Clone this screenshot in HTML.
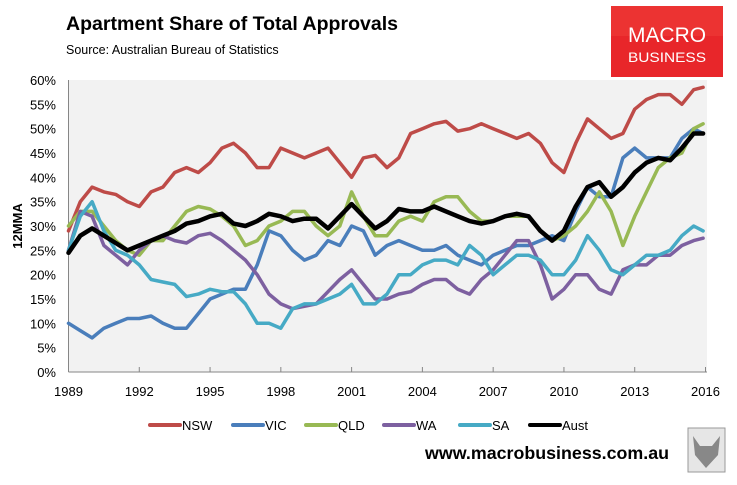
<!DOCTYPE html>
<html><head><meta charset="utf-8"><style>
body{margin:0;background:#fff;width:737px;height:480px;overflow:hidden;font-family:"Liberation Sans",sans-serif}
</style></head><body>
<svg id="chart" width="737" height="480" xmlns="http://www.w3.org/2000/svg">
<text x="66" y="30" font-size="19" font-weight="bold" fill="#000" textLength="332" lengthAdjust="spacingAndGlyphs">Apartment Share of Total Approvals</text>
<text x="66" y="54" font-size="12.5" fill="#000">Source:  Australian Bureau of Statistics</text>
<g>
<rect x="611" y="6" width="112" height="71" fill="#e8262a"/>
<rect x="611" y="6" width="112" height="30" fill="#f0403a" opacity="0.5"/>
<text x="667" y="42" font-size="21" fill="#fff" text-anchor="middle" textLength="78" lengthAdjust="spacingAndGlyphs">MACRO</text>
<text x="667" y="62" font-size="14" fill="#fff" text-anchor="middle" textLength="78" lengthAdjust="spacingAndGlyphs">BUSINESS</text>
</g>
<rect x="68.5" y="80" width="638.5" height="292" fill="#f2f2f2"/>
<g id="axes"></g>
<g id="series"></g>
<text transform="translate(22,226) rotate(-90)" font-size="13" font-weight="bold" text-anchor="middle">12MMA</text>
<g id="legend"></g>
<text x="425" y="459" font-size="17.5" font-weight="bold" fill="#000" textLength="244" lengthAdjust="spacingAndGlyphs">www.macrobusiness.com.au</text>
<g>
<rect x="688" y="428" width="37" height="44" fill="#e6e6e6" stroke="#999"/>
<path d="M693 436 L700 446 L712 446 L720 436 L718 455 L706 468 L695 455 Z" fill="#888"/>
</g>
</svg>
<script>
const years=[1989,1989.5,1990,1990.5,1991,1991.5,1992,1992.5,1993,1993.5,1994,1994.5,1995,1995.5,1996,1996.5,1997,1997.5,1998,1998.5,1999,1999.5,2000,2000.5,2001,2001.5,2002,2002.5,2003,2003.5,2004,2004.5,2005,2005.5,2006,2006.5,2007,2007.5,2008,2008.5,2009,2009.5,2010,2010.5,2011,2011.5,2012,2012.5,2013,2013.5,2014,2014.5,2015,2015.5,2015.9];
const nsw=[29,35,38,37,36.5,35,34,37,38,41,42,41,43,46,47,45,42,42,46,45,44,45,46,43,40,44,44.5,42,44,49,50,51,51.5,49.5,50,51,50,49,48,49,47,43,41,47,52,50,48,49,54,56,57,57,55,58,58.5];
const vic=[10,8.5,7,9,10,11,11,11.5,10,9,9,12,15,16,17,17,22,29,28,25,23,24,27,26,30,29,24,26,27,26,25,25,26,24,23,22,24,25,26,26,27,28,27,33,38,36,36,44,46,44,44,44,48,50,49];
const qld=[30,33,33,30,27,25,24,27,27,30,33,34,33.5,32,30,26,27,30,31,33,33,30,28,30,37,32,28,28,31,32,31,35,36,36,33,31,31,32,32,32,29,27,28,30,33,37,33,26,32,37,42,44,45,50,51];
const wa=[25,33,32,26,24,22,25,27,28,27,26.5,28,28.5,27,25,23,20,16,14,13,13.5,14,16.5,19,21,18,15,15,16,16.5,18,19,19,17,16,19,21,24,27,27,22,15,17,20,20,17,16,21,22,22,24,24,26,27,27.5];
const sa=[25,32,35,29,25,24,22,19,18.5,18,15.5,16,17,16.5,16.5,14,10,10,9,13,14,14,15,16,18,14,14,16,20,20,22,23,23,22,26,24,20,22,24,24,23,20,20,23,28,25,21,20,22,24,24,25,28,30,29];
const aust=[24.5,28,29.5,28,26.5,25,26,27,28,29,30.5,31,32,32.5,30.5,30,31,32.5,32,31,31.5,31.5,29.5,32,34.5,32,29.5,31,33.5,33,33,34,33,32,31,30.5,31,32,32.5,32,29,27,29,34,38,39,36,38,41,43,44,43.5,46,49,49];
const yTicks=[0,5,10,15,20,25,30,35,40,45,50,55,60];
const xTicks=[1989,1992,1995,1998,2001,2004,2007,2010,2013,2016];
const seriesNames=["NSW","VIC","QLD","WA","SA","Aust"];
const seriesColors=["#be4b48","#4a7ebb","#98b954","#7d60a0","#46aac5","#000000"];
const seriesData=[nsw,vic,qld,wa,sa,aust];

const NS="http://www.w3.org/2000/svg";
const X0=68.5,X1=705.5,Y0=372,Y1=80;
const xs=y=>X0+(y-1989)/(2016-1989)*(X1-X0);
const ys=v=>Y0-v/60*(Y0-Y1);
function mk(tag,attrs,parent){const e=document.createElementNS(NS,tag);for(const k in attrs)e.setAttribute(k,attrs[k]);parent.appendChild(e);return e;}
const axes=document.getElementById('axes');
const yax=mk('line',{x1:X0,y1:Y1,x2:X0,y2:Y0,stroke:'#868686','stroke-width':1},axes);


const xax=mk('line',{x1:X0,y1:Y0,x2:707,y2:Y0,stroke:'#868686','stroke-width':1},axes);


yTicks.forEach(v=>{
 const t=mk('text',{x:56,y:ys(v)+5,'font-size':13,'text-anchor':'end',fill:'#000'},axes);
 t.textContent=v+'%';
 
 
});
xTicks.forEach(v=>{
 const l=mk('line',{x1:xs(v),y1:Y0,x2:xs(v),y2:Y0-5,stroke:'#868686'},axes);
 
 
 const t=mk('text',{x:xs(v),y:396,'font-size':13,'text-anchor':'middle',fill:'#000'},axes);
 t.textContent=v;
 
 
});
const sg=document.getElementById('series');
seriesData.forEach((d,i)=>{
 const pts=d.map((v,j)=>xs(years[j]).toFixed(1)+','+ys(v).toFixed(1)).join(' ');
 const p=mk('polyline',{points:pts,fill:'none',stroke:seriesColors[i],'stroke-width':i==5?4.5:3.5,'stroke-linejoin':'round','stroke-linecap':'round'},sg);
 
 
});
const lg=document.getElementById('legend');
const lx=[150,233,306,384,460,530];
seriesNames.forEach((n,i)=>{
 const g=mk('g',{},lg);
 
 
 mk('line',{x1:lx[i],y1:425,x2:lx[i]+30,y2:425,stroke:seriesColors[i],'stroke-width':4,'stroke-linecap':'round'},g);
 const t=mk('text',{x:lx[i]+32,y:430,'font-size':13,fill:'#000'},g);
 t.textContent=n;
});
</script>
</body></html>
